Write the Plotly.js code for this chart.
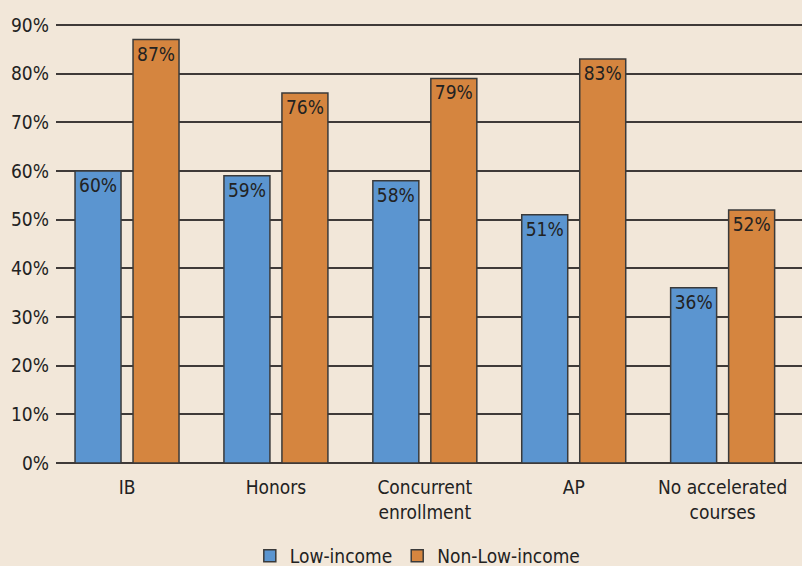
<!DOCTYPE html>
<html>
<head>
<meta charset="utf-8">
<script src="https://cdn.plot.ly/plotly-3.0.1.min.js"></script>
<style>html,body{margin:0;padding:0;background:#f2e7d9;}#chart{width:802px;height:566px;}</style>
</head>
<body>
<div id="chart"></div>
<script>
const categories = ["IB", "Honors", "Concurrent<br>enrollment", "AP", "No accelerated<br>courses"];
const lowIncome = [60, 59, 58, 51, 36];
const nonLowIncome = [87, 76, 79, 83, 52];
const yTickVals = [0, 10, 20, 30, 40, 50, 60, 70, 80, 90];
const yTickText = ["0%", "10%", "20%", "30%", "40%", "50%", "60%", "70%", "80%", "90%"];

const FONT = "DejaVu Sans Condensed, Liberation Sans Narrow, sans-serif";
const bg = "#f2e7d9";

const mk = (name, vals, color) => ({
  type: "bar",
  name: name,
  x: categories,
  y: vals,
  text: vals.map(v => v + "%"),
  textposition: "inside",
  insidetextanchor: "end",
  textangle: 0,
  constraintext: "none",
  textfont: {family: FONT, size: 19, color: "#222"},
  marker: {color: color, line: {color: "#3a3a3a", width: 1.5}},
  hoverinfo: "skip"
});

const data = [
  mk("Low-income", lowIncome, "#5b95d0"),
  mk("Non-Low-income", nonLowIncome, "#d5853f")
];

const layout = {
  width: 802, height: 566,
  paper_bgcolor: bg, plot_bgcolor: bg,
  margin: {l: 56, r: 0, t: 23, b: 103, autoexpand: false},
  font: {family: FONT, size: 19, color: "#222"},
  barmode: "group",
  bargap: 0.221,
  bargroupgap: 0.207,
  showlegend: true,
  legend: {orientation: "h", x: 0.485, xanchor: "center", y: -0.168, yanchor: "top",
           font: {family: FONT, size: 19, color: "#222"}, itemwidth: 30, traceorder: "normal"},
  xaxis: {
    type: "category",
    range: [-0.477, 4.533],
    showgrid: false, showline: false, ticks: "",
    ticklabelstandoff: 11,
    tickfont: {family: FONT, size: 19, color: "#222"}
  },
  yaxis: {
    range: [0, 90.4],
    tickvals: yTickVals, ticktext: yTickText,
    showgrid: true, gridcolor: "#3f3a38", gridwidth: 2,
    zeroline: true, zerolinecolor: "#3f3a38", zerolinewidth: 2,
    showline: false, ticks: "",
    ticklabelstandoff: 6,
    tickfont: {family: FONT, size: 19, color: "#222"}
  }
};

Plotly.newPlot("chart", data, layout, {displayModeBar: false, staticPlot: true});
</script>
</body>
</html>
